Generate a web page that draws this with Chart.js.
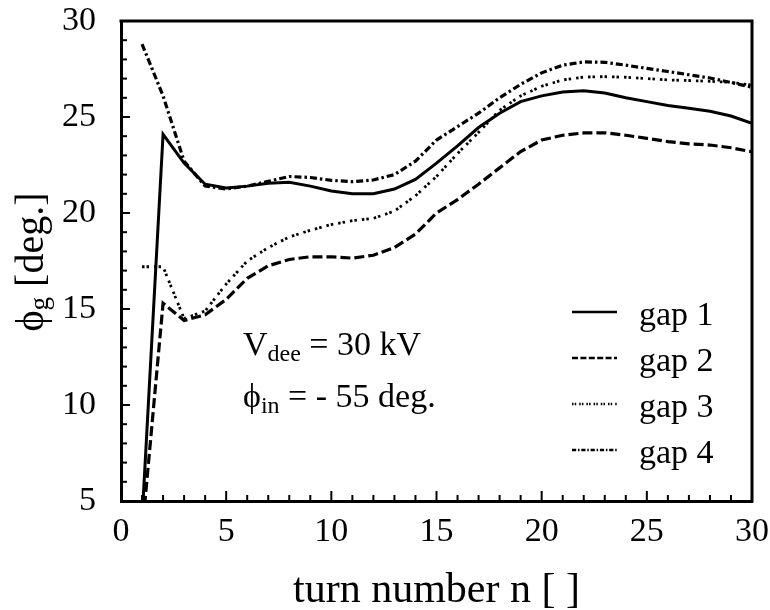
<!DOCTYPE html>
<html>
<head>
<meta charset="utf-8">
<script src="https://cdn.jsdelivr.net/npm/chart.js@4"></script>
<style>
  html, body { margin: 0; padding: 0; background: #fff; }
  #wrap { width: 770px; height: 610px; }
</style>
</head>
<body>
<div id="wrap"><canvas id="c" width="770" height="610"></canvas></div>
<script>
const turns = [1,2,3,4,5,6,7,8,9,10,11,12,13,14,15,16,17,18,19,20,21,22,23,24,25,26,27,28,29,30];
const gap1 = [4.0,24.1,22.6,21.5,21.3,21.4,21.55,21.6,21.4,21.15,21.0,21.0,21.25,21.75,22.6,23.5,24.45,25.2,25.8,26.1,26.3,26.37,26.25,26.0,25.8,25.6,25.45,25.3,25.05,24.67];
const gap2 = [3.3,15.3,14.4,14.7,15.5,16.6,17.25,17.58,17.72,17.72,17.65,17.8,18.2,18.9,20.0,20.7,21.5,22.35,23.2,23.8,24.05,24.17,24.18,24.05,23.89,23.72,23.6,23.54,23.4,23.19];
const gap3 = [17.2,17.2,14.5,14.9,16.3,17.5,18.2,18.75,19.1,19.4,19.6,19.72,20.1,20.9,21.9,23.1,24.2,25.35,26.1,26.6,26.93,27.08,27.1,27.07,27.0,26.93,26.9,26.86,26.8,26.66];
const gap4 = [28.8,26.1,22.7,21.4,21.25,21.4,21.65,21.9,21.85,21.7,21.63,21.72,22.0,22.7,23.8,24.5,25.2,26.0,26.7,27.3,27.7,27.87,27.85,27.7,27.53,27.37,27.2,27.03,26.8,26.55];
const seriesLabels = ['gap 1','gap 2','gap 3','gap 4'];
const xTickValues = [0,5,10,15,20,25,30];
const yTickValues = [5,10,15,20,25,30];
const xTitle = 'turn number n [ ]';

const FONT = "'Liberation Serif', 'Times New Roman', serif";
const styles = [
  { borderDash: [], borderWidth: 3 },
  { borderDash: [10, 4], borderWidth: 3.2 },
  { borderDash: [2.5, 2, 2.5, 5], borderWidth: 2.8 },
  { borderDash: [7, 3, 2.5, 3], borderWidth: 3.2 }
];
const seriesData = [gap1, gap2, gap3, gap4];

const datasets = seriesData.map((arr, i) => ({
  label: seriesLabels[i],
  data: turns.map((t, j) => ({ x: t, y: arr[j] })),
  borderColor: '#000',
  borderWidth: styles[i].borderWidth,
  borderDash: styles[i].borderDash,
  pointRadius: 0,
  tension: 0,
  fill: false
}));

function drawRuns(ctx, runs, x, y) {
  let cx = x;
  runs.forEach(r => {
    ctx.font = r.size + 'px ' + FONT;
    ctx.fillText(r.t, cx, y + (r.dy || 0));
    cx += ctx.measureText(r.t).width;
  });
  return cx - x;
}
function measureRuns(ctx, runs) {
  let w = 0;
  runs.forEach(r => { ctx.font = r.size + 'px ' + FONT; w += ctx.measureText(r.t).width; });
  return w;
}

const decor = {
  id: 'decor',
  afterDraw(chart) {
    const ctx = chart.ctx;
    const a = chart.chartArea;
    const xs = chart.scales.x, ys = chart.scales.y;
    ctx.save();
    ctx.strokeStyle = '#000';
    ctx.fillStyle = '#000';
    ctx.lineWidth = 3;
    ctx.setLineDash([]);
    ctx.beginPath();
    ctx.moveTo(a.left - 1.5, a.top);
    ctx.lineTo(a.right, a.top);
    ctx.lineTo(a.right, a.bottom + 1.5);
    ctx.stroke();
    ctx.lineWidth = 2;
    for (let v = xs.min; v <= xs.max; v += 1) {
      const px = xs.getPixelForValue(v);
      const len = (v % 5 === 0) ? 10 : 6;
      ctx.beginPath();
      ctx.moveTo(px, a.bottom);
      ctx.lineTo(px, a.bottom - len);
      ctx.stroke();
    }
    for (let v = ys.min; v <= ys.max; v += 1) {
      const py = ys.getPixelForValue(v);
      const len = (v % 5 === 0) ? 9 : 6;
      ctx.beginPath();
      ctx.moveTo(a.left, py);
      ctx.lineTo(a.left + len, py);
      ctx.stroke();
    }
    ctx.textAlign = 'left';
    ctx.textBaseline = 'alphabetic';
    chart.data.datasets.forEach((ds, i) => {
      const ly = 312 + i * 46;
      ctx.lineWidth = 2.4;
      ctx.setLineDash(ds.borderDash.map(d => d * 0.6));
      ctx.beginPath();
      ctx.moveTo(572, ly);
      ctx.lineTo(617, ly);
      ctx.stroke();
      ctx.setLineDash([]);
      ctx.font = '34px ' + FONT;
      ctx.fillText(ds.label, 639, ly + 13);
    });
    drawRuns(ctx, [
      { t: 'V', size: 34 },
      { t: 'dee', size: 24, dy: 6 },
      { t: ' = 30 kV', size: 34 }
    ], 243, 355);
    drawRuns(ctx, [
      { t: '\u03D5', size: 34 },
      { t: 'in', size: 24, dy: 6 },
      { t: ' = - 55 deg.', size: 34 }
    ], 243, 407);
    ctx.font = '42px ' + FONT;
    ctx.textAlign = 'center';
    ctx.fillText(xTitle, (a.left + a.right) / 2, 602);
    ctx.textAlign = 'left';
    const yRuns = [
      { t: '\u03D5', size: 40 },
      { t: 'g', size: 27, dy: 5 },
      { t: ' [deg.]', size: 40 }
    ];
    ctx.translate(43, 262);
    ctx.rotate(-Math.PI / 2);
    const w = measureRuns(ctx, yRuns);
    drawRuns(ctx, yRuns, -w / 2, 0);
    ctx.restore();
  }
};

Chart.defaults.font.family = FONT;
Chart.defaults.color = '#000';

function zeroPad(s) { s.paddingTop = 0; s.paddingBottom = 0; s.paddingLeft = 0; s.paddingRight = 0; }

new Chart(document.getElementById('c'), {
  type: 'line',
  data: { datasets },
  options: {
    responsive: false,
    animation: false,
    devicePixelRatio: 1,
    layout: { padding: { left: 0, right: 18, top: 21, bottom: 0 } },
    plugins: { legend: { display: false }, tooltip: { enabled: false } },
    scales: {
      x: {
        type: 'linear',
        min: 0, max: 30,
        afterBuildTicks: s => { s.ticks = xTickValues.map(v => ({ value: v })); },
        afterFit: s => { s.height = 109; zeroPad(s); },
        grid: { display: false },
        border: { display: true, color: '#000', width: 3 },
        ticks: { font: { size: 34 }, color: '#000', padding: 3, maxRotation: 0 }
      },
      y: {
        type: 'linear',
        min: 5, max: 30,
        afterBuildTicks: s => { s.ticks = yTickValues.map(v => ({ value: v })); },
        afterFit: s => { s.width = 121; zeroPad(s); },
        grid: { display: false },
        border: { display: true, color: '#000', width: 3 },
        ticks: { font: { size: 34 }, color: '#000', padding: 17 }
      }
    }
  },
  plugins: [decor]
});
</script>
</body>
</html>
